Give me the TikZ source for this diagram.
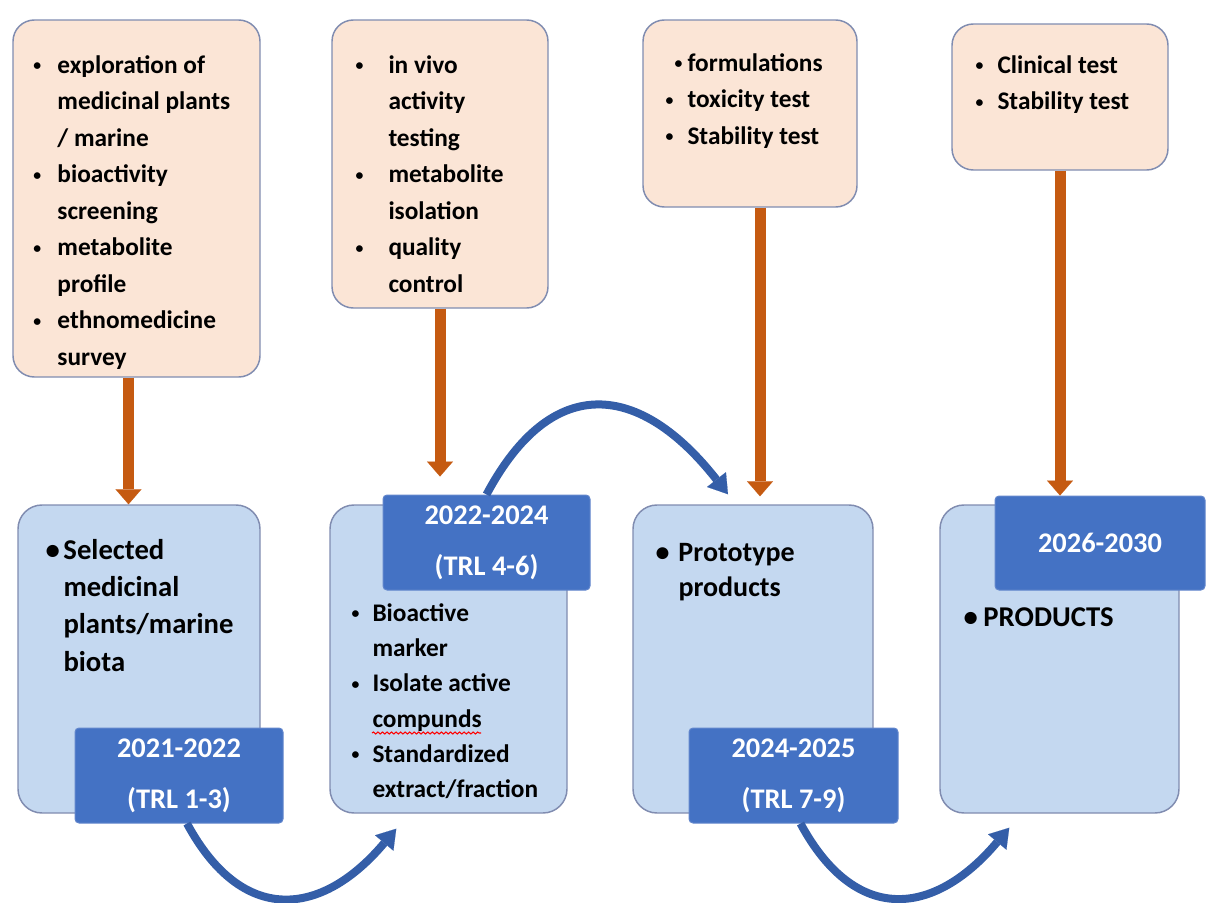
\documentclass[tikz,border=0pt]{standalone}
\usepackage{graphicx}
\usepackage{fontspec}
\setmainfont{Carlito}
\usetikzlibrary{arrows.meta,calc,decorations.pathmorphing}

\definecolor{peach}{RGB}{251,229,214}
\definecolor{paleblue}{RGB}{196,216,240}
\definecolor{edgegray}{RGB}{128,140,176}
\definecolor{dateblue}{RGB}{68,114,196}
\definecolor{dateedge}{RGB}{98,134,204}
\definecolor{rust}{RGB}{197,90,17}
\definecolor{arcblue}{RGB}{52,94,168}

% small bullet, as in the upper boxes
\newcommand{\sbul}{\raisebox{1.9pt}{\scalebox{0.62}{\textbullet}}}

\tikzset{every picture/.style={line width=0.75pt}}
\tikzset{
  sz/.style 2 args={minimum width=#1*0.75pt, minimum height=#2*0.75pt, inner sep=0pt},
  topbox/.style={draw=edgegray, fill=peach, line width=1.1pt, rounded corners=16pt},
  lowbox/.style={draw=edgegray, fill=paleblue, line width=1.1pt, rounded corners=18pt},
  datebox/.style={draw=dateedge, fill=dateblue, rounded corners=3pt, text=white, align=center,
    font=\fontsize{21.3}{38.5}\selectfont\bfseries},
  toplist/.style={anchor=base west, inner sep=0pt, font=\fontsize{19}{27.4}\selectfont\bfseries},
  lowlist/.style={anchor=base west, inner sep=0pt, font=\fontsize{21.5}{28.1}\selectfont\bfseries},
  orarrow/.style={draw=rust, line width=8.25pt, -{Triangle[width=19.5pt,length=11.25pt,line width=0.1pt]}},
  bluearc/.style={draw=arcblue, line width=6pt, -{Triangle[width=18pt,length=14pt,line width=0.1pt]}},
  wavy/.style={draw=red, line width=0.8pt, decorate, decoration={snake, amplitude=0.75pt, segment length=3.4pt}}
}

\begin{document}
\begin{tikzpicture}[x=0.75pt,y=0.75pt,yscale=-1,xscale=1]
\useasboundingbox (0,0) rectangle (1211,903);

%Shape: Rounded Rect (upper row)
\node[topbox, sz={247}{357}] (t1) at (136.5,198.5) {};
\node[topbox, sz={216}{288}] (t2) at (440,164) {};
\node[topbox, sz={214}{187}] (t3) at (750,113.5) {};
\node[topbox, sz={216}{146}] (t4) at (1060,97) {};

%Shape: Rounded Rect (lower row)
\node[lowbox, sz={242}{308}] (b1) at (139,659) {};
\node[lowbox, sz={237}{308}] (b2) at (448.5,659) {};
\node[lowbox, sz={240}{308}] (b3) at (753,659) {};
\node[lowbox, sz={239}{308}] (b4) at (1059.5,659) {};

%Shape: Rectangle (periods)
\node[datebox, sz={208}{95}] (d1) at (179,775.5) {2021-2022\\(TRL 1-3)};
\node[datebox, sz={207}{95}] (d2) at (486.5,542.5) {2022-2024\\(TRL 4-6)};
\node[datebox, sz={209}{95}] (d3) at (793.5,775.5) {2024-2025\\(TRL 7-9)};
\node[datebox, sz={210}{94}] (d4) at (1100,543) {2026-2030};

% Text Node
\node[toplist] (t1list) at (33,73) {\begin{tabular}[t]{@{}p{18pt}@{}l@{}}
\sbul & exploration of\\
 & medicinal plants\\
 & / marine\\
\sbul & bioactivity\\
 & screening\\
\sbul & metabolite\\
 & profile\\
\sbul & ethnomedicine\\
 & survey
\end{tabular}};
% Text Node
\node[toplist] (t2list) at (355,73) {\begin{tabular}[t]{@{}p{24.75pt}@{}l@{}}
\sbul & in vivo\\
 & activity\\
 & testing\\
\sbul & metabolite\\
 & isolation\\
\sbul & quality\\
 & control
\end{tabular}};
% Text Node
\node[toplist] (t3list) at (665,71) {\begin{tabular}[t]{@{}p{16.5pt}@{}l@{}}
\hspace*{6.75pt}\sbul & formulations\\
\sbul & toxicity test\\
\sbul & Stability test
\end{tabular}};
% Text Node
\node[toplist] (t4list) at (975,73) {\begin{tabular}[t]{@{}p{16.5pt}@{}l@{}}
\sbul & Clinical test\\
\sbul & Stability test
\end{tabular}};

% Text Node
\node[lowlist] (b1list) at (45,559) {\begin{tabular}[t]{@{}p{13.5pt}@{}l@{}}
\textbullet & Selected\\
 & medicinal\\
 & plants/marine\\
 & biota
\end{tabular}};
% Text Node
\node[lowlist, font=\fontsize{19}{26.5}\selectfont\bfseries] (b2list) at (351,621) {\begin{tabular}[t]{@{}p{15.75pt}@{}l@{}}
\sbul & Bioactive\\
 & marker\\
\sbul & Isolate active\\
 & compunds\\
\sbul & Standardized\\
 & extract/fraction
\end{tabular}};
\draw[wavy] ($(b2list.base west)+(21,112)$) -- ++(109,0);
% Text Node
\node[lowlist, font=\fontsize{21}{26.25}\selectfont\bfseries] (b3list) at (655,561) {\begin{tabular}[t]{@{}p{17.25pt}@{}l@{}}
\textbullet & Prototype\\
 & products
\end{tabular}};
% Text Node
\node[lowlist] (b4list) at (963,626) {\begin{tabular}[t]{@{}p{15pt}@{}l@{}}
\textbullet & PRODUCTS
\end{tabular}};

%Straight Lines (activities into stages)
\draw[orarrow] ($(t1.south)+(-8,0)$) -- ($(b1.north)+(-10.5,0)$);
\draw[orarrow] (t2.south) -- ($(d2.north -| t2.south)+(0,-18)$);
\draw[orarrow] ($(t3.south)+(10,0)$) -- ($(b3.north)+(7,-8)$);
\draw[orarrow] (t4.south) -- (d4.north -| t4.south);

%Curve Lines (stage to stage)
\draw[bluearc] ($(d1.south)+(8,0)$) .. controls +(55,102) and +(-75,89) .. ($(b2.south west)+(67,15)$);
\draw[bluearc] (d2.north) .. controls +(66,-124) and +(-87,-111) .. ($(b3.north)+(-25,-10)$);
\draw[bluearc] ($(d3.south)+(7,0)$) .. controls +(55,102) and +(-75,89) .. ($(b4.south west)+(70,14)$);

\end{tikzpicture}
\end{document}
